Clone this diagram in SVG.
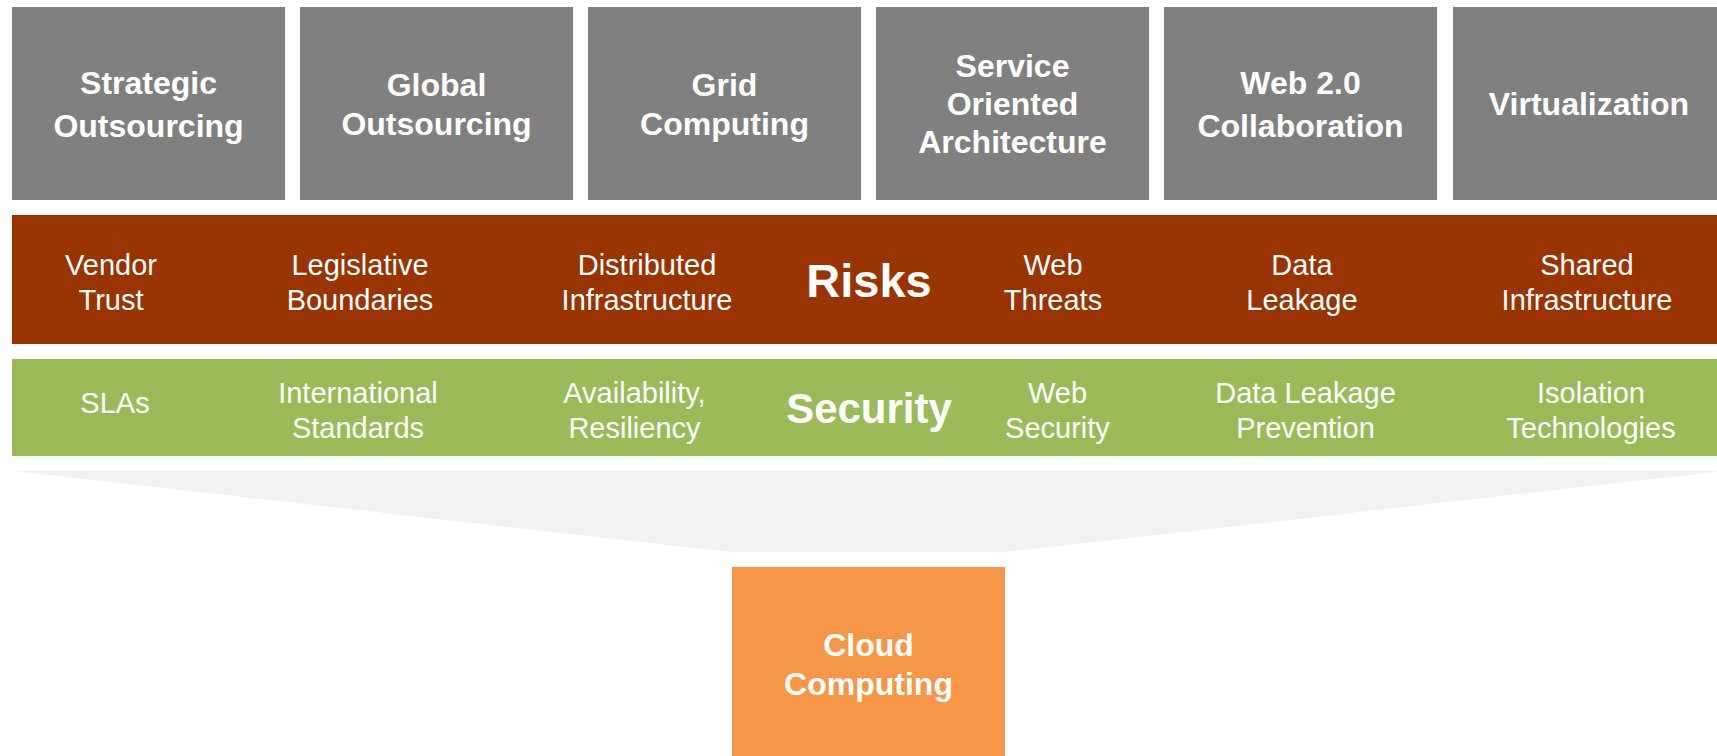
<svg xmlns="http://www.w3.org/2000/svg" width="1717" height="756" viewBox="0 0 1717 756">
<style>
.box{fill:#808080}
.t{font-family:"Liberation Sans",Arial,sans-serif;fill:#ffffff;text-anchor:middle}
.tb{font-weight:bold;font-size:32px}
.tr{font-size:29px}
</style>
<rect width="1717" height="756" fill="#ffffff"/>
<g id="connectors">
<polygon id="funnel" points="13,471 1724,471 1005,552 730,552" fill="#f2f2f2"/>
</g>
<g id="n-strategic"><rect class="box" x="12" y="7" width="273" height="193"/><text class="t tb" x="148.5" y="94">Strategic</text><text class="t tb" x="148.5" y="136.7">Outsourcing</text></g>
<g id="n-global"><rect class="box" x="300" y="7" width="273" height="193"/><text class="t tb" x="436.5" y="96">Global</text><text class="t tb" x="436.5" y="135">Outsourcing</text></g>
<g id="n-grid"><rect class="box" x="588" y="7" width="273" height="193"/><text class="t tb" x="724.5" y="96">Grid</text><text class="t tb" x="724.5" y="135">Computing</text></g>
<g id="n-soa"><rect class="box" x="876" y="7" width="273" height="193"/><text class="t tb" x="1012.5" y="77">Service</text><text class="t tb" x="1012.5" y="115">Oriented</text><text class="t tb" x="1012.5" y="153.3">Architecture</text></g>
<g id="n-web20"><rect class="box" x="1164" y="7" width="273" height="193"/><text class="t tb" x="1300.5" y="94">Web 2.0</text><text class="t tb" x="1300.5" y="136.7">Collaboration</text></g>
<g id="n-virt"><rect class="box" x="1453" y="7" width="273" height="193"/><text class="t tb" x="1589" y="115">Virtualization</text></g>
<g id="n-risks">
<rect x="12" y="215" width="1720" height="129" fill="#993300"/>
<text class="t tr" x="111" y="275">Vendor</text><text class="t tr" x="111" y="310">Trust</text>
<text class="t tr" x="360" y="275">Legislative</text><text class="t tr" x="360" y="310">Boundaries</text>
<text class="t tr" x="647" y="275">Distributed</text><text class="t tr" x="647" y="310">Infrastructure</text>
<text class="t" x="869" y="297" font-size="47" font-weight="bold">Risks</text>
<text class="t tr" x="1053" y="275">Web</text><text class="t tr" x="1053" y="310">Threats</text>
<text class="t tr" x="1302" y="275">Data</text><text class="t tr" x="1302" y="310">Leakage</text>
<text class="t tr" x="1587" y="275">Shared</text><text class="t tr" x="1587" y="310">Infrastructure</text>
</g>
<g id="n-security">
<rect x="12" y="359" width="1720" height="97" fill="#9bbb59"/>
<text class="t tr" x="115" y="413">SLAs</text>
<text class="t tr" x="358" y="403">International</text><text class="t tr" x="358" y="438">Standards</text>
<text class="t tr" x="634.5" y="403">Availability,</text><text class="t tr" x="634.5" y="438">Resiliency</text>
<text class="t" x="869" y="423" font-size="42" font-weight="bold">Security</text>
<text class="t tr" x="1057.5" y="403">Web</text><text class="t tr" x="1057.5" y="438">Security</text>
<text class="t tr" x="1305.5" y="403">Data Leakage</text><text class="t tr" x="1305.5" y="438">Prevention</text>
<text class="t tr" x="1591" y="403">Isolation</text><text class="t tr" x="1591" y="438">Technologies</text>
</g>
<g id="n-cloud"><rect x="732" y="567" width="273" height="200" fill="#f79646"/><text class="t tb" x="868.5" y="656">Cloud</text><text class="t tb" x="868.5" y="695">Computing</text></g>
</svg>
